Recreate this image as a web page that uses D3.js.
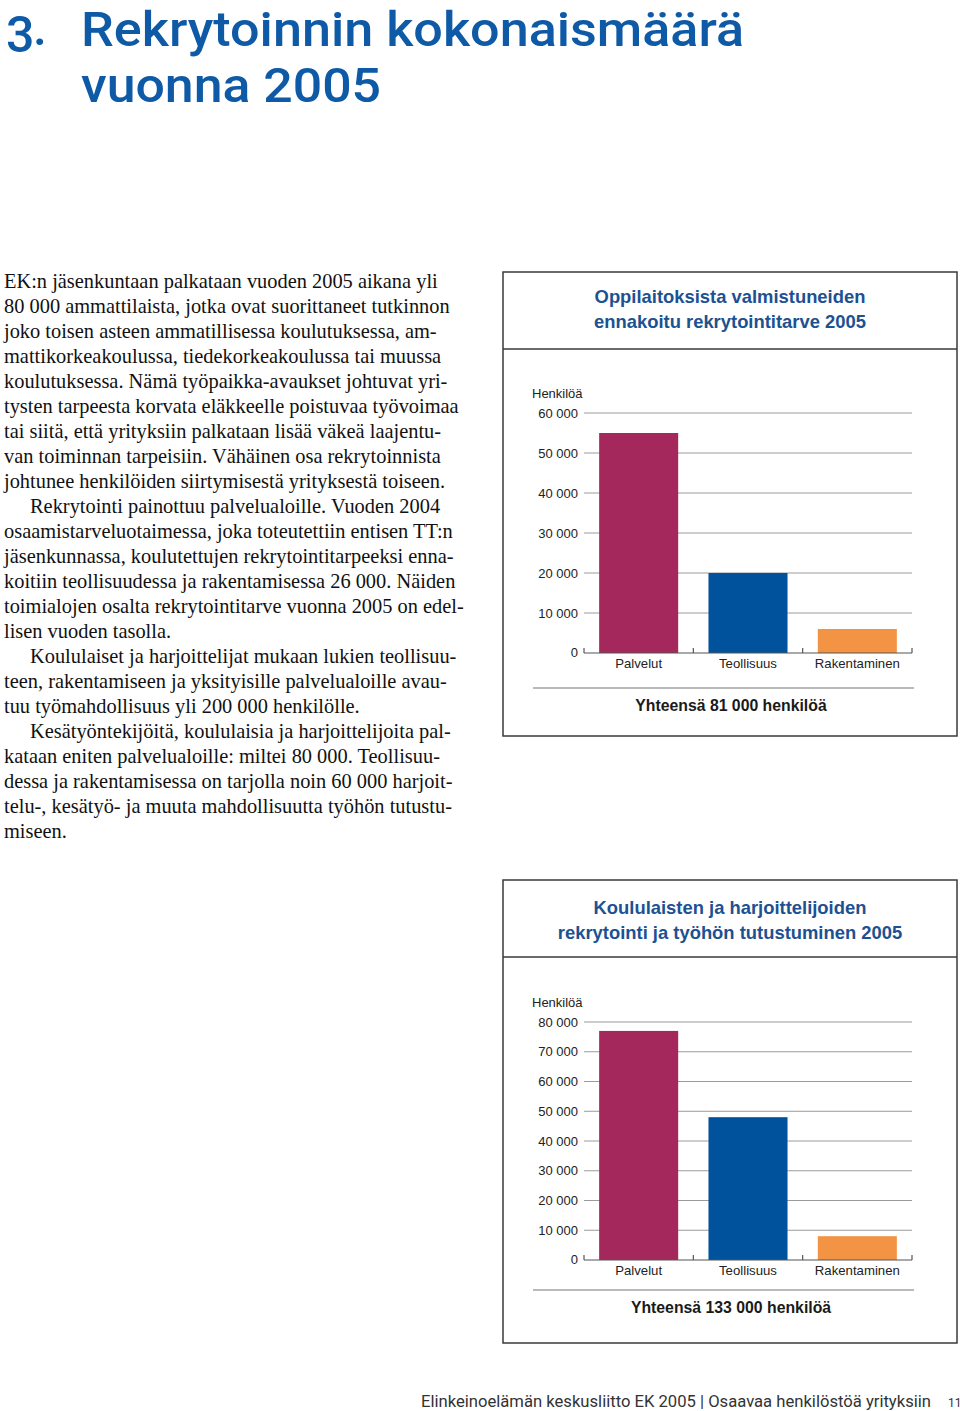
<!DOCTYPE html>
<html><head><meta charset="utf-8">
<script src="https://cdn.jsdelivr.net/npm/d3@7"></script>
<style>
html,body{margin:0;padding:0;background:#fff;}
svg{display:block;}
</style></head>
<body>
<script>
// ---------- DATA ----------
const categories = ["Palvelut", "Teollisuus", "Rakentaminen"];
const graduateValues = [55000, 20000, 6000];        // chart 1
const graduateTicks = [0, 10000, 20000, 30000, 40000, 50000, 60000];
const pupilValues = [77000, 48000, 8000];            // chart 2
const pupilTicks = [0, 10000, 20000, 30000, 40000, 50000, 60000, 70000, 80000];
const barColors = ["#a5285c", "#00529c", "#f39445"];
const chart1Title = ["Oppilaitoksista valmistuneiden", "ennakoitu rekrytointitarve 2005"];
const chart1Total = "Yhteensä 81 000 henkilöä";
const chart2Title = ["Koululaisten ja harjoittelijoiden", "rekrytointi ja työhön tutustuminen 2005"];
const chart2Total = "Yhteensä 133 000 henkilöä";
const yLabel = "Henkilöä";

const bodyLines = [
 [0,"EK:n jäsenkuntaan palkataan vuoden 2005 aikana yli"],
 [0,"80 000 ammattilaista, jotka ovat suorittaneet tutkinnon"],
 [0,"joko toisen asteen ammatillisessa koulutuksessa, am-"],
 [0,"mattikorkeakoulussa, tiedekorkeakoulussa tai muussa"],
 [0,"koulutuksessa. Nämä työpaikka-avaukset johtuvat yri-"],
 [0,"tysten tarpeesta korvata eläkkeelle poistuvaa työvoimaa"],
 [0,"tai siitä, että yrityksiin palkataan lisää väkeä laajentu-"],
 [0,"van toiminnan tarpeisiin. Vähäinen osa rekrytoinnista"],
 [0,"johtunee henkilöiden siirtymisestä yrityksestä toiseen."],
 [1,"Rekrytointi painottuu palvelualoille. Vuoden 2004"],
 [0,"osaamistarveluotaimessa, joka toteutettiin entisen TT:n"],
 [0,"jäsenkunnassa, koulutettujen rekrytointitarpeeksi enna-"],
 [0,"koitiin teollisuudessa ja rakentamisessa 26 000. Näiden"],
 [0,"toimialojen osalta rekrytointitarve vuonna 2005 on edel-"],
 [0,"lisen vuoden tasolla."],
 [1,"Koululaiset ja harjoittelijat mukaan lukien teollisuu-"],
 [0,"teen, rakentamiseen ja yksityisille palvelualoille avau-"],
 [0,"tuu työmahdollisuus yli 200 000 henkilölle."],
 [1,"Kesätyöntekijöitä, koululaisia ja harjoittelijoita pal-"],
 [0,"kataan eniten palvelualoille: miltei 80 000. Teollisuu-"],
 [0,"dessa ja rakentamisessa on tarjolla noin 60 000 harjoit-"],
 [0,"telu-, kesätyö- ja muuta mahdollisuutta työhön tutustu-"],
 [0,"miseen."]
];

// ---------- DRAW ----------
const W = 960, H = 1411;
const svg = d3.select("body").append("svg").attr("width", W).attr("height", H);
const blue = "#0e5aa6";

// Page heading
const headFont = "Roboto, 'Open Sans', sans-serif";
svg.append("text").attr("x", 6).attr("y", 52).attr("font-family", headFont).attr("font-weight", 500)
  .attr("font-size", 50).attr("fill", blue).text("3");
svg.append("text").attr("x", 33).attr("y", 45).attr("font-family", headFont).attr("font-weight", 500)
  .attr("font-size", 50).attr("fill", blue).text(".");
svg.append("text").attr("x", 81).attr("y", 45.5).attr("font-family", headFont).attr("font-weight", 500)
  .attr("font-size", 48).attr("fill", blue).attr("textLength", 663).attr("lengthAdjust", "spacingAndGlyphs")
  .text("Rekrytoinnin kokonaismäärä");
svg.append("text").attr("x", 81).attr("y", 102).attr("font-family", headFont).attr("font-weight", 500)
  .attr("font-size", 48).attr("fill", blue).attr("textLength", 300).attr("lengthAdjust", "spacingAndGlyphs")
  .text("vuonna 2005");

// Body text
const body = svg.append("g").attr("font-family", "'Liberation Serif', 'Times New Roman', serif")
  .attr("font-size", 20.4).attr("fill", "#111");
body.selectAll("text").data(bodyLines).join("text")
  .attr("x", d => d[0] ? 30 : 4)
  .attr("y", (d, i) => 288 + i * 25)
  .text(d => d[1]);

// Footer
const footFont = "Roboto, 'Open Sans', sans-serif";
svg.append("text").attr("x", 421).attr("y", 1407).attr("font-family", footFont).attr("font-size", 16)
  .attr("fill", "#333").attr("textLength", 510).attr("lengthAdjust", "spacingAndGlyphs")
  .text("Elinkeinoelämän keskusliitto EK 2005 | Osaavaa henkilöstöä yrityksiin");
svg.append("text").attr("x", 948).attr("y", 1407).attr("font-family", footFont).attr("font-size", 12)
  .attr("fill", "#333").text("11");

// Chart drawing
const locale = d3.formatLocale({decimal: ",", thousands: " ", grouping: [3], currency: ["", ""]});
const fmt = locale.format(",");

function drawChart(cfg) {
  const g = svg.append("g");
  const sans = "'Liberation Sans', Arial, Helvetica, sans-serif";
  // box
  g.append("rect").attr("x", cfg.box[0]).attr("y", cfg.box[1])
    .attr("width", cfg.box[2] - cfg.box[0]).attr("height", cfg.box[3] - cfg.box[1])
    .attr("fill", "none").attr("stroke", "#3a3a3a").attr("stroke-width", 1.5);
  g.append("line").attr("x1", cfg.box[0]).attr("x2", cfg.box[2]).attr("y1", cfg.sep).attr("y2", cfg.sep)
    .attr("stroke", "#3a3a3a").attr("stroke-width", 1.5);
  // title
  cfg.title.forEach((t, i) => {
    g.append("text").attr("x", 730).attr("y", cfg.titleY + i * 25).attr("text-anchor", "middle")
      .attr("font-family", sans).attr("font-weight", "bold").attr("font-size", 18.4)
      .attr("fill", "#1c5192").text(t);
  });
  const x = d3.scaleBand().domain(categories).range([584, 912]).paddingInner(0.277).paddingOuter(0.1385);
  const y = d3.scaleLinear().domain([0, d3.max(cfg.ticks)]).range(cfg.yRange);
  // grid lines
  g.append("g").selectAll("line").data(cfg.ticks.filter(t => t > 0)).join("line")
    .attr("x1", 584).attr("x2", 912).attr("y1", d => y(d)).attr("y2", d => y(d))
    .attr("stroke", "#9b9b9b").attr("stroke-width", 1);
  // y axis labels
  const ax = d3.axisLeft(y).tickValues(cfg.ticks).tickSize(0).tickPadding(6).tickFormat(fmt);
  const axG = g.append("g").attr("transform", "translate(584,0)").call(ax);
  axG.select(".domain").remove();
  axG.selectAll("text").attr("font-family", sans).attr("font-size", 13).attr("fill", "#222");
  axG.selectAll(".tick").filter(d => d === 0).select("text").attr("dy", "0.25em");
  g.append("text").attr("x", 532).attr("y", y(d3.max(cfg.ticks)) - 15).attr("font-family", sans)
    .attr("font-size", 13).attr("fill", "#222").text(yLabel);
  // bars
  g.append("g").selectAll("rect").data(cfg.values).join("rect")
    .attr("x", (d, i) => x(categories[i])).attr("width", x.bandwidth())
    .attr("y", d => y(d)).attr("height", d => y(0) - y(d))
    .attr("fill", (d, i) => barColors[i]);
  // baseline and category ticks
  g.append("line").attr("x1", 584).attr("x2", 912).attr("y1", y(0)).attr("y2", y(0))
    .attr("stroke", "#555").attr("stroke-width", 1.2);
  const bounds = [0, 1, 2, 3].map(i => 584 + i * x.step());
  g.append("g").selectAll("line").data(bounds).join("line")
    .attr("x1", d => d).attr("x2", d => d).attr("y1", y(0)).attr("y2", y(0) - 5)
    .attr("stroke", "#555").attr("stroke-width", 1.2);
  // category labels
  g.append("g").selectAll("text").data(categories).join("text")
    .attr("x", d => x(d) + x.bandwidth() / 2).attr("y", y(0) + 15).attr("text-anchor", "middle")
    .attr("font-family", sans).attr("font-size", 13.2).attr("fill", "#222").text(d => d);
  // separator & total
  g.append("line").attr("x1", 533).attr("x2", 914).attr("y1", cfg.totalSep).attr("y2", cfg.totalSep)
    .attr("stroke", "#777").attr("stroke-width", 1.2);
  g.append("text").attr("x", 731).attr("y", cfg.totalSep + 23).attr("text-anchor", "middle")
    .attr("font-family", sans).attr("font-weight", "bold").attr("font-size", 15.8).attr("fill", "#1a1a1a")
    .text(cfg.total);
}

drawChart({box: [503, 272, 957, 736], sep: 349, title: chart1Title, titleY: 303,
  ticks: graduateTicks, values: graduateValues, yRange: [653, 413], totalSep: 688, total: chart1Total});
drawChart({box: [503, 880, 957, 1343], sep: 957, title: chart2Title, titleY: 914,
  ticks: pupilTicks, values: pupilValues, yRange: [1260, 1022], totalSep: 1290, total: chart2Total});
</script>
</body></html>
